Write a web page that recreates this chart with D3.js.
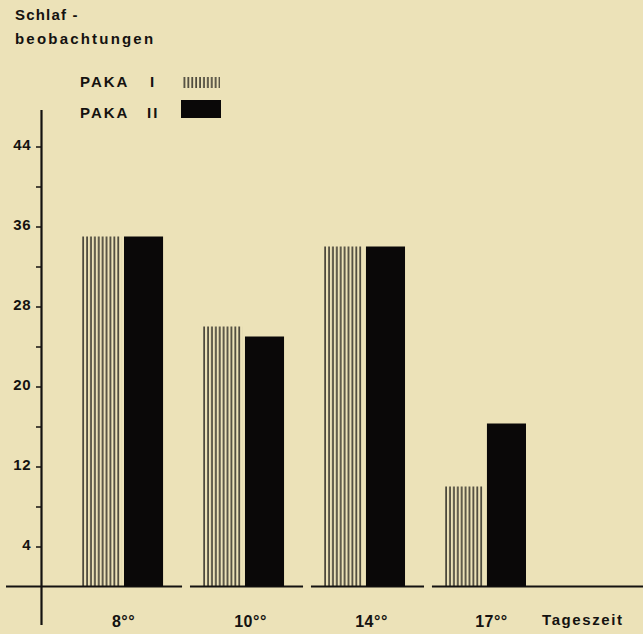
<!DOCTYPE html>
<html><head><meta charset="utf-8">
<script src="https://cdn.jsdelivr.net/npm/d3@7"></script>
<style>
html,body{margin:0;padding:0;background:#ece2b8;}
svg{display:block;}
text{font-family:"Liberation Sans",Arial,Helvetica,sans-serif;font-weight:bold;fill:#141210;}
</style></head>
<body>
<svg id="chart" width="643" height="634"></svg>
<script>
// ---- data ----
const categories = ["8°°", "10°°", "14°°", "17°°"];
const seriesNames = ["PAKA I", "PAKA II"];
const pakaI = [35, 26, 34, 10];
const pakaII = [35, 25, 34, 16.3];
const majorTicks = [4, 12, 20, 28, 36, 44];
const minorTicks = [8, 16, 24, 32, 40];
const yTitle = ["Schlaf -", "beobachtungen"];
const xTitle = "Tageszeit";

const W = 643, H = 634;
const svg = d3.select("#chart");
const ink = "#141210";

const defs = svg.append("defs");
const pat = defs.append("pattern").attr("id","hatch").attr("patternUnits","userSpaceOnUse")
  .attr("width",3.9).attr("height",10).attr("x",82);
pat.append("rect").attr("x",0.4).attr("y",0).attr("width",1.3).attr("height",10).attr("fill",ink);

const y = d3.scaleLinear().domain([0, 48]).range([586.5, 106.5]);
const x = d3.scaleBand().domain(categories).range([82, 526]).paddingInner(0.33).paddingOuter(0);
const xs = d3.scaleBand().domain(seriesNames).range([0, x.bandwidth()]).paddingInner(0.07);

// baseline segments
categories.forEach((c, i) => {
  const x0 = i === 0 ? 6 : x(c) - 13;
  const x1 = i === categories.length - 1 ? W : x(c) + x.bandwidth() + 19;
  svg.append("line").attr("x1", x0).attr("x2", x1).attr("y1", y(0)).attr("y2", y(0))
    .attr("stroke", ink).attr("stroke-width", 2.2);
});

// y axis line
svg.append("line").attr("x1",41.5).attr("x2",41.5).attr("y1",110).attr("y2",625)
  .attr("stroke", ink).attr("stroke-width", 2.2);

// ticks
const ax = svg.append("g").attr("transform","translate(41,0)")
  .call(d3.axisLeft(y).tickValues(majorTicks).tickSize(5).tickPadding(5).tickFormat(d3.format("d")));
ax.select(".domain").remove();
ax.selectAll(".tick line").attr("stroke", ink).attr("stroke-width", 1.5);
ax.selectAll(".tick text").attr("font-size", 15).attr("fill", ink).attr("letter-spacing", 0.5)
  .attr("font-family",'"Liberation Sans",Arial,sans-serif').attr("font-weight","bold").attr("dy","0.18em");
const ax2 = svg.append("g").attr("transform","translate(41,0)")
  .call(d3.axisLeft(y).tickValues(minorTicks).tickSize(5).tickFormat(""));
ax2.select(".domain").remove();
ax2.selectAll(".tick line").attr("stroke", ink).attr("stroke-width", 1.5);

// bars
const groups = svg.append("g").selectAll("g").data(categories).join("g")
  .attr("transform", d => `translate(${x(d)},0)`);
groups.append("rect")
  .attr("x", xs("PAKA I")).attr("width", xs.bandwidth())
  .attr("y", (d,i) => y(pakaI[i])).attr("height", (d,i) => y(0) - y(pakaI[i]))
  .attr("fill", "url(#hatch)");
groups.append("rect")
  .attr("x", xs("PAKA II")).attr("width", xs.bandwidth())
  .attr("y", (d,i) => y(pakaII[i])).attr("height", (d,i) => y(0) - y(pakaII[i]))
  .attr("fill", "#0a0808");

// x labels
const labelOffsets = [1, 7, 7, 6];
svg.append("g").selectAll("text").data(categories).join("text")
  .attr("x", (d,i) => x(d) + x.bandwidth()/2 + labelOffsets[i])
  .attr("y", 627).attr("text-anchor","middle").attr("font-size", 16).attr("letter-spacing", 0.5)
  .text(d => d);
svg.append("text").attr("x", 542).attr("y", 625).attr("font-size", 15)
  .attr("letter-spacing", 1.6).text(xTitle);

// y title
svg.append("text").attr("x", 15).attr("y", 20).attr("font-size", 15).attr("letter-spacing", 1.2).text(yTitle[0]);
svg.append("text").attr("x", 15).attr("y", 44).attr("font-size", 15).attr("letter-spacing", 2.2).text(yTitle[1]);

// legend
const legY = [87, 118];
svg.append("text").attr("x", 80).attr("y", legY[0]).attr("font-size", 15).attr("letter-spacing", 2).text("PAKA");
svg.append("text").attr("x", 150).attr("y", legY[0]).attr("font-size", 15).text("I");
svg.append("text").attr("x", 80).attr("y", legY[1]).attr("font-size", 15).attr("letter-spacing", 2).text("PAKA");
svg.append("text").attr("x", 147).attr("y", legY[1]).attr("font-size", 15).attr("letter-spacing", 2).text("II");
svg.append("rect").attr("x", 183).attr("y", 77).attr("width", 37).attr("height", 11).attr("fill", "url(#hatch)");
svg.append("rect").attr("x", 181).attr("y", 100).attr("width", 40).attr("height", 18).attr("fill", "#0a0808");
</script>
</body></html>
